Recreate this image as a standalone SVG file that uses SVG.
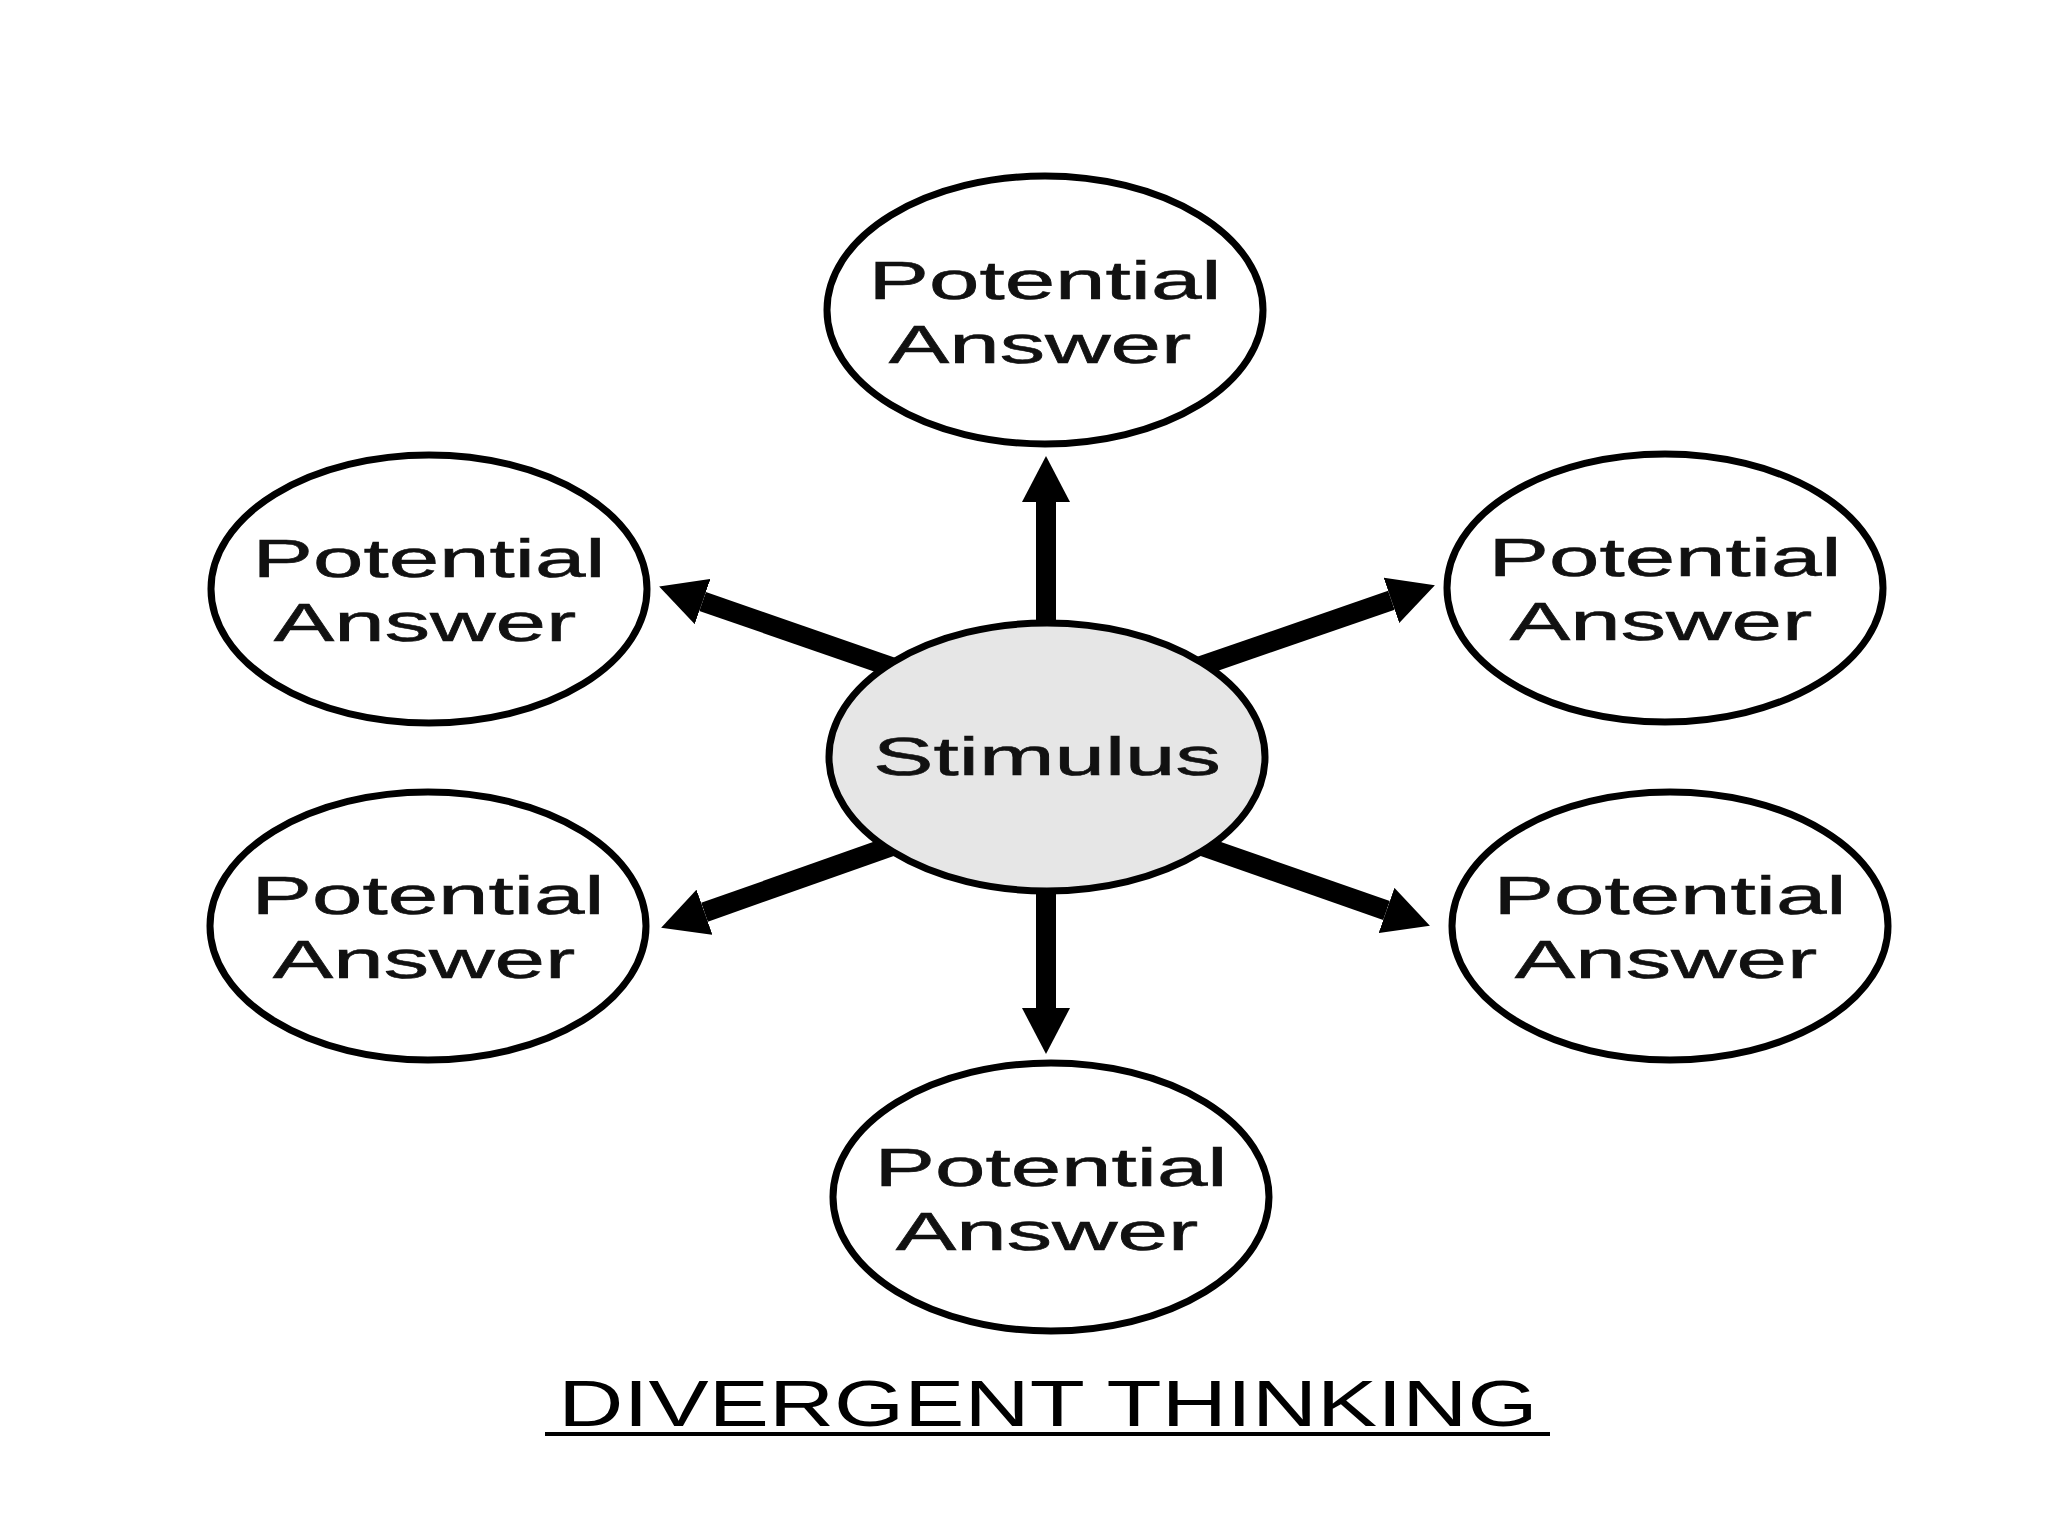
<svg xmlns="http://www.w3.org/2000/svg" width="2048" height="1536" viewBox="0 0 2048 1536">
  <style>
    .node { fill: #ffffff; stroke: #000000; stroke-width: 7; }
    .stim { fill: #e6e6e6; stroke: #000000; stroke-width: 7; }
    .lbl { font-family: "Liberation Sans", Arial, sans-serif; font-size: 54px; fill: #111111; stroke: #111111; stroke-width: 0.6; text-anchor: middle; }
    .title { font-family: "Liberation Sans", Arial, sans-serif; font-size: 64px; fill: #000000; text-anchor: middle; }
    .conn { stroke: #000000; stroke-width: 20; fill: none; marker-end: url(#head); }
  </style>
  <defs>
    <marker id="head" viewBox="0 0 46 48" refX="0" refY="24" markerWidth="46" markerHeight="48" markerUnits="userSpaceOnUse" orient="auto">
      <path d="M0,0 L46,24 L0,48 Z" fill="#000000"/>
    </marker>
  </defs>
  <rect x="0" y="0" width="2048" height="1536" fill="#ffffff"/>

  <g id="connectors">
    <line class="conn" x1="1046" y1="640" x2="1046" y2="502"/>
    <line class="conn" x1="1046" y1="875" x2="1046" y2="1008"/>
    <line class="conn" x1="899" y1="669.6" x2="702.6" y2="601.5"/>
    <line class="conn" x1="1191" y1="669.5" x2="1391.4" y2="600.3"/>
    <line class="conn" x1="906" y1="841" x2="704.5" y2="912.3"/>
    <line class="conn" x1="1189" y1="841.4" x2="1386.5" y2="910.5"/>
  </g>

  <g id="stimulus">
    <ellipse class="stim" cx="1047" cy="757" rx="218" ry="134"/>
    <text class="lbl" transform="translate(1047,775) scale(1.68,1)">Stimulus</text>
  </g>

  <g id="answer-top">
    <ellipse class="node" cx="1045" cy="310" rx="218" ry="134"/>
    <text class="lbl" transform="translate(1045,299) scale(1.68,1)">Potential</text>
    <text class="lbl" transform="translate(1040,363) scale(1.68,1)">Answer</text>
  </g>

  <g id="answer-upper-left">
    <ellipse class="node" cx="429" cy="589" rx="218" ry="134"/>
    <text class="lbl" transform="translate(429,577) scale(1.68,1)">Potential</text>
    <text class="lbl" transform="translate(425,641) scale(1.68,1)">Answer</text>
  </g>

  <g id="answer-upper-right">
    <ellipse class="node" cx="1665" cy="588" rx="218" ry="134"/>
    <text class="lbl" transform="translate(1665,576) scale(1.68,1)">Potential</text>
    <text class="lbl" transform="translate(1661,640) scale(1.68,1)">Answer</text>
  </g>

  <g id="answer-lower-left">
    <ellipse class="node" cx="428" cy="926" rx="218" ry="134"/>
    <text class="lbl" transform="translate(428,914) scale(1.68,1)">Potential</text>
    <text class="lbl" transform="translate(424,978) scale(1.68,1)">Answer</text>
  </g>

  <g id="answer-lower-right">
    <ellipse class="node" cx="1670" cy="926" rx="218" ry="134"/>
    <text class="lbl" transform="translate(1670,914) scale(1.68,1)">Potential</text>
    <text class="lbl" transform="translate(1666,978) scale(1.68,1)">Answer</text>
  </g>

  <g id="answer-bottom">
    <ellipse class="node" cx="1051" cy="1197" rx="218" ry="134"/>
    <text class="lbl" transform="translate(1051,1186) scale(1.68,1)">Potential</text>
    <text class="lbl" transform="translate(1047,1250) scale(1.68,1)">Answer</text>
  </g>

  <g id="title">
    <text class="title" transform="translate(1048,1426) scale(1.41,1)">DIVERGENT THINKING</text>
    <line x1="545" y1="1434" x2="1550" y2="1434" stroke="#000000" stroke-width="4"/>
  </g>
</svg>
